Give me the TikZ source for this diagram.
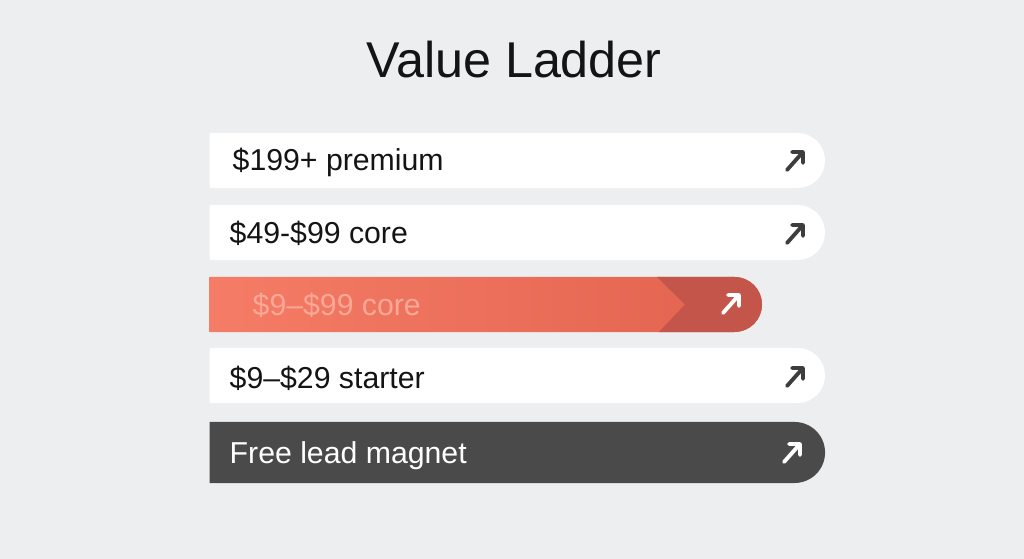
\documentclass[tikz,border=0pt]{standalone}
\usepackage{fontspec}
\setmainfont{Liberation Sans}
\usetikzlibrary{shapes.misc}

\definecolor{pagebg}{HTML}{ECEEF0}
\definecolor{ink}{HTML}{141414}
\definecolor{iconink}{HTML}{3D3D3D}
\definecolor{coralL}{HTML}{F57C66}
\definecolor{coralR}{HTML}{E2634F}
\definecolor{coralD}{HTML}{C4554A}
\definecolor{coralT}{HTML}{F9A797}
\definecolor{slate}{HTML}{4A4A4A}

\tikzset{
	rung/.style={rounded rectangle, rounded rectangle left arc=none,
		minimum width=6.15cm, minimum height=0.55cm, inner sep=0pt,
		anchor=west, draw=none},
	rungtext/.style={anchor=base west, inner sep=0pt,
		font=\fontsize{8.6}{10}\selectfont},
	goarrow/.pic={
		\draw [line width=1.1pt, line cap=round, line join=round]
		(-8,9) -- (8,-9) (-3,-9) -- (8,-9) -- (8,2);
	}
}

\begin{document}
\begin{tikzpicture}[x=0.01cm, y=-0.01cm]
			\useasboundingbox [fill=pagebg] (0, 0) rectangle (1024, 559);

			\node [anchor=base, inner sep=0pt, text=ink,
			font=\fontsize{14.3}{17}\selectfont] (title) at (514, 77.7) {Value Ladder};

			% top rung
			\node [rung, fill=white] (premiumbar) at (209, 160.5) {};
			\node [rungtext, text=ink] (premium) at (232, 170.5) {\$199+ premium};
			\pic [iconink] at (795, 161) {goarrow};

			\node [rung, fill=white] (corebar) at (209, 232.5) {};
			\node [rungtext, text=ink] (core) at (229, 244) {\$49-\$99 core};
			\pic [iconink] at (795, 234) {goarrow};

			% highlighted rung
			\node [rung, minimum width=5.52cm, left color=coralL, right color=coralR,
			path picture={
				\fill [coralD] ([xshift=4.47cm]path picture bounding box.north west)
				-- ([xshift=4.75cm]path picture bounding box.west)
				-- ([xshift=4.49cm]path picture bounding box.south west)
				-- (path picture bounding box.south east)
				-- (path picture bounding box.north east) -- cycle;
			}] (midbar) at (209, 304.5) {};
			\node [rungtext, text=coralT] (mid) at (252, 315.5) {\$9–\$99 core};
			\pic [white] at (731, 304) {goarrow};

			\node [rung, fill=white] (starterbar) at (209, 375.5) {};
			\node [rungtext, text=ink] (starter) at (229, 388.5) {\$9–\$29 starter};
			\pic [iconink] at (795, 377) {goarrow};

			% bottom rung
			\node [rung, minimum height=0.61cm, fill=slate] (magnetbar) at (209, 452.5) {};
			\node [rungtext, text=white] (magnet) at (229, 464) {Free lead magnet};
			\pic [white] at (792, 453) {goarrow};
\end{tikzpicture}
\end{document}
